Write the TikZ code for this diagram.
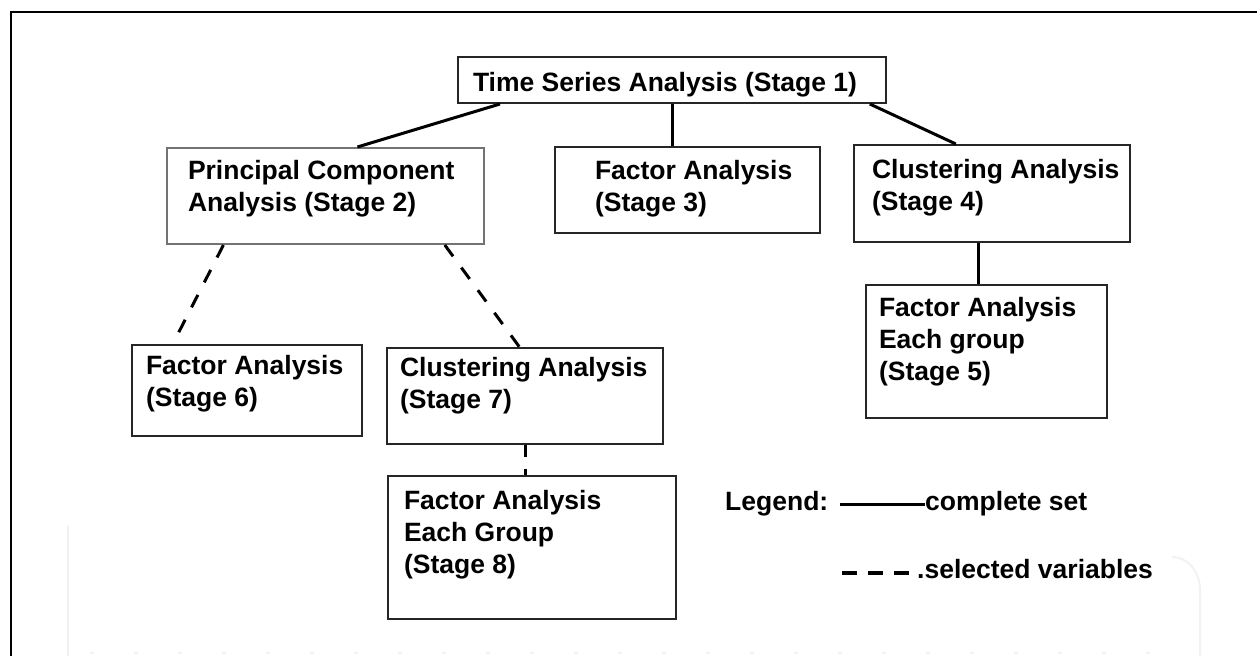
\documentclass[tikz,border=0pt]{standalone}
\usepackage{fontspec}
\setmainfont{Liberation Sans}
\usetikzlibrary{calc, positioning}

% box text: height, width, left inset, first baseline, lines
\newcommand{\stagetext}[5]{%
  \parbox[b][#1pt][t]{#2pt}{\leftskip=#3pt\relax\rightskip=-80pt\relax
    \rule{0pt}{#4pt}#5}}

\begin{document}
\begin{tikzpicture}[x=1pt, y=-1pt,
    stage/.style={draw=black!85, line width=2pt, inner sep=0pt, anchor=north west,
      font=\bfseries\fontsize{26.5}{32}\selectfont},
    full link/.style={line width=3pt},
    part link/.style={line width=3pt, dash pattern=on 14pt off 14pt},
    legend text/.style={inner sep=0pt, anchor=base west,
      font=\bfseries\fontsize{26.5}{32}\selectfont}]
    \useasboundingbox (0,0) rectangle (1257,656);

    % frame and faint watermark
    \draw[line width=2.2pt] (11,656) -- (11,12) -- (1257,12);
    \draw[black!5, line width=2pt] (68,656) -- (68,525);
    \draw[black!5, line width=2pt] (1172,557) to[out=0, in=90] (1200,590) -- (1200,656);
    \draw[black!5, line width=2pt, dash pattern=on 4pt off 40pt] (90,653) -- (1190,653);

    \node[stage]                (Stage 1) at (457,56)  {\stagetext{46}{428}{15}{34}{Time Series Analysis (Stage 1)}};
    \node[stage, draw=black!55] (Stage 2) at (166,147) {\stagetext{96}{317}{21}{31}{Principal Component\\Analysis (Stage 2)}};
    \node[stage]                (Stage 3) at (554,146) {\stagetext{86}{265}{40}{32}{Factor Analysis\\(Stage 3)}};
    \node[stage]                (Stage 4) at (853,144) {\stagetext{97}{276}{18}{33}{Clustering Analysis\\(Stage 4)}};
    \node[stage]                (Stage 5) at (865,284) {\stagetext{133}{241}{13}{31}{Factor Analysis\\Each group\\(Stage 5)}};
    \node[stage]                (Stage 6) at (131,344) {\stagetext{91}{230}{14}{29}{Factor Analysis\\(Stage 6)}};
    \node[stage]                (Stage 7) at (386,347) {\stagetext{96}{276}{13}{28}{Clustering Analysis\\(Stage 7)}};
    \node[stage]                (Stage 8) at (387,475) {\stagetext{143}{288}{16}{33}{Factor Analysis\\Each Group\\(Stage 8)}};

    % complete set
    \draw[full link] ($(Stage 1.south west)!0.1!(Stage 1.south east)$) -- ($(Stage 2.north west)!0.6!(Stage 2.north east)$);
    \draw[full link] (Stage 1.south) -- (Stage 1.south |- Stage 3.north);
    \draw[full link] ($(Stage 1.south west)!0.96!(Stage 1.south east)$) -- ($(Stage 4.north west)!0.37!(Stage 4.north east)$);
    \coordinate (Stage 4 foot) at ($(Stage 4.south west)!0.45!(Stage 4.south east)$);
    \draw[full link] (Stage 4 foot) -- (Stage 4 foot |- Stage 5.north);

    % selected variables
    \draw[part link] ($(Stage 2.south west)!0.18!(Stage 2.south east)$) -- ($(Stage 6.north west)!0.18!(Stage 6.north east)$);
    \draw[part link] ($(Stage 2.south west)!0.874!(Stage 2.south east)$) -- ($(Stage 7.north west)!0.48!(Stage 7.north east)$);
    \draw[part link, dash pattern=on 12pt off 12pt] (Stage 7.south) -- (Stage 7.south |- Stage 8.north);

    % legend
    \node[legend text] (Legend)   at (725,510) {Legend:};
    \node[legend text] (complete) at (925,510) {complete set};
    \node[legend text] (selected) at (917,578) {.selected variables};
    \coordinate (solid start) at (840,504);
    \coordinate (dash start)  at (842,573);
    \draw[full link] (solid start) -- (solid start -| complete.west);
    \draw[line width=3.6pt, dash pattern=on 15pt off 11pt] (dash start) -- (dash start -| selected.west);
\end{tikzpicture}
\end{document}
